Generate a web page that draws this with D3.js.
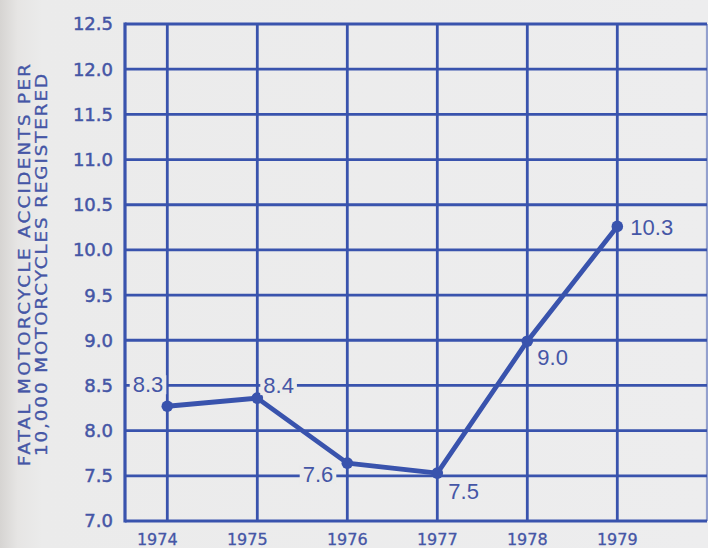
<!DOCTYPE html>
<html>
<head>
<meta charset="utf-8">
<script src="https://cdn.jsdelivr.net/npm/d3@7"></script>
<style>
  html, body { margin: 0; padding: 0; background: #ebebeb; }
  svg { display: block; }
</style>
</head>
<body>
<svg id="chart"></svg>
<script>
// data
const years = [1974, 1975, 1976, 1977, 1978, 1979];
const rates = [8.27, 8.36, 7.64, 7.53, 8.99, 10.26];   // plotted positions
const rateLabels = ['8.3', '8.4', '7.6', '7.5', '9.0', '10.3'];
const yTicks = [7.0, 7.5, 8.0, 8.5, 9.0, 9.5, 10.0, 10.5, 11.0, 11.5, 12.0, 12.5];
const xGridYears = [1974, 1975, 1976, 1977, 1978, 1979, 1980];
const yTitle = ['FATAL MOTORCYCLE ACCIDENTS PER', '10,000 MOTORCYCLES REGISTERED'];

const W = 708, H = 548;
const blue = '#3953ad';
const textBlue = '#4556a6';
const paper = '#ebebeb';

const svg = d3.select('#chart')
    .attr('width', W)
    .attr('height', H);

// paper with a darker left edge
const grad = svg.append('defs').append('linearGradient')
    .attr('id', 'paper')
    .attr('x1', 0).attr('x2', 1).attr('y1', 0).attr('y2', 0);
grad.append('stop').attr('offset', '0%').attr('stop-color', '#d6d4d2');
grad.append('stop').attr('offset', '2.5%').attr('stop-color', '#e6e5e4');
grad.append('stop').attr('offset', '6%').attr('stop-color', paper);
grad.append('stop').attr('offset', '100%').attr('stop-color', '#ededee');
svg.append('rect')
    .attr('width', W).attr('height', H)
    .attr('fill', 'url(#paper)');

const xscale = d3.scaleLinear()
    .domain([1973.53, 1980.03])
    .range([125, 710]);

const yscale = d3.scaleLinear()
    .domain([7.0, 12.5])
    .range([521, 24]);

const left = xscale.range()[0];

// grid
const grid = svg.append('g');
grid.selectAll('line.h')
    .data(yTicks)
    .join('line')
    .attr('x1', left).attr('x2', 707)
    .attr('y1', d => yscale(d)).attr('y2', d => yscale(d))
    .attr('stroke', blue)
    .attr('stroke-width', d => d === 7.0 ? 3.2 : 2.8);

grid.selectAll('line.v')
    .data(xGridYears)
    .join('line')
    .attr('x1', d => xscale(d)).attr('x2', d => xscale(d))
    .attr('y1', yscale(12.5)).attr('y2', yscale(7.0))
    .attr('stroke', blue)
    .attr('stroke-opacity', d => d === 1980 ? 0.5 : 1)
    .attr('stroke-width', 2.8);

grid.append('line')
    .attr('x1', left).attr('x2', left)
    .attr('y1', yscale(12.5) - 1.4).attr('y2', yscale(7.0) + 1.6)
    .attr('stroke', blue)
    .attr('stroke-width', 3.2);

// y tick labels
svg.append('g').selectAll('text')
    .data(yTicks)
    .join('text')
    .attr('x', 113)
    .attr('y', d => yscale(d))
    .attr('dy', '0.36em')
    .attr('text-anchor', 'end')
    .style('font-family', 'DejaVu Sans')
    .style('font-size', '18px')
    .attr('fill', textBlue)
    .attr('stroke', textBlue)
    .attr('stroke-width', 0.5)
    .text(d => d.toFixed(1));

// x tick labels
svg.append('g').selectAll('text')
    .data(years)
    .join('text')
    .attr('x', d => xscale(d) - (d < 1976 ? 10 : 0))
    .attr('y', 545)
    .attr('text-anchor', 'middle')
    .style('font-family', 'DejaVu Sans')
    .style('font-size', '16px')
    .attr('fill', textBlue)
    .attr('stroke', textBlue)
    .attr('stroke-width', 0.3)
    .text(d => d);

// y title (wide letters, stretched along the baseline)
const stretch = 1.22;
const ttl = svg.append('text')
    .attr('transform', `translate(30, 265) rotate(-90) scale(${stretch}, 1)`)
    .attr('text-anchor', 'middle')
    .style('font-family', 'DejaVu Sans')
    .style('font-size', '15px')
    .attr('fill', textBlue)
    .attr('stroke', textBlue)
    .attr('stroke-width', 0.3);
ttl.append('tspan').attr('x', 0).attr('dy', 0)
    .attr('textLength', 402 / stretch).attr('lengthAdjust', 'spacing')
    .text(yTitle[0]);
ttl.append('tspan').attr('x', 0).attr('dy', 17)
    .attr('textLength', 382 / stretch).attr('lengthAdjust', 'spacing')
    .text(yTitle[1]);

// line
const points = years.map((d, i) => ({year: d, rate: rates[i], label: rateLabels[i]}));

const line = d3.line()
    .x(d => xscale(d.year))
    .y(d => yscale(d.rate));

svg.append('path')
    .datum(points)
    .attr('d', line)
    .attr('fill', 'none')
    .attr('stroke', blue)
    .attr('stroke-width', 4.8)
    .attr('stroke-linejoin', 'round');

svg.append('g').selectAll('circle')
    .data(points)
    .join('circle')
    .attr('cx', d => xscale(d.year))
    .attr('cy', d => yscale(d.rate))
    .attr('r', 5.8)
    .attr('fill', blue);

// value labels: offset from the point, and whether they cut a gridline
const place = {
    1974: {dx: -4, dy: -14, anchor: 'end', knock: true},
    1975: {dx: 6, dy: -5, anchor: 'start', knock: true},
    1976: {dx: -14, dy: 19, anchor: 'end', knock: true},
    1977: {dx: 11, dy: 26, anchor: 'start', knock: false},
    1978: {dx: 10, dy: 24, anchor: 'start', knock: false},
    1979: {dx: 13, dy: 9, anchor: 'start', knock: false}
};

const lbl = svg.append('g').selectAll('g')
    .data(points)
    .join('g')
    .attr('transform', d => `translate(${xscale(d.year) + place[d.year].dx}, ${yscale(d.rate) + place[d.year].dy})`);

lbl.append('text')
    .attr('text-anchor', d => place[d.year].anchor)
    .style('font-family', 'Liberation Sans, Arial, sans-serif')
    .style('font-size', '22px')
    .attr('fill', textBlue)
    .text(d => d.label);

lbl.each(function(d) {
    if (!place[d.year].knock) return;
    const g = d3.select(this);
    const bb = g.select('text').node().getBBox();
    g.insert('rect', 'text')
        .attr('x', bb.x - 3)
        .attr('y', bb.y + 3)
        .attr('width', bb.width + 6)
        .attr('height', bb.height - 6)
        .attr('fill', paper);
});
</script>
</body>
</html>
